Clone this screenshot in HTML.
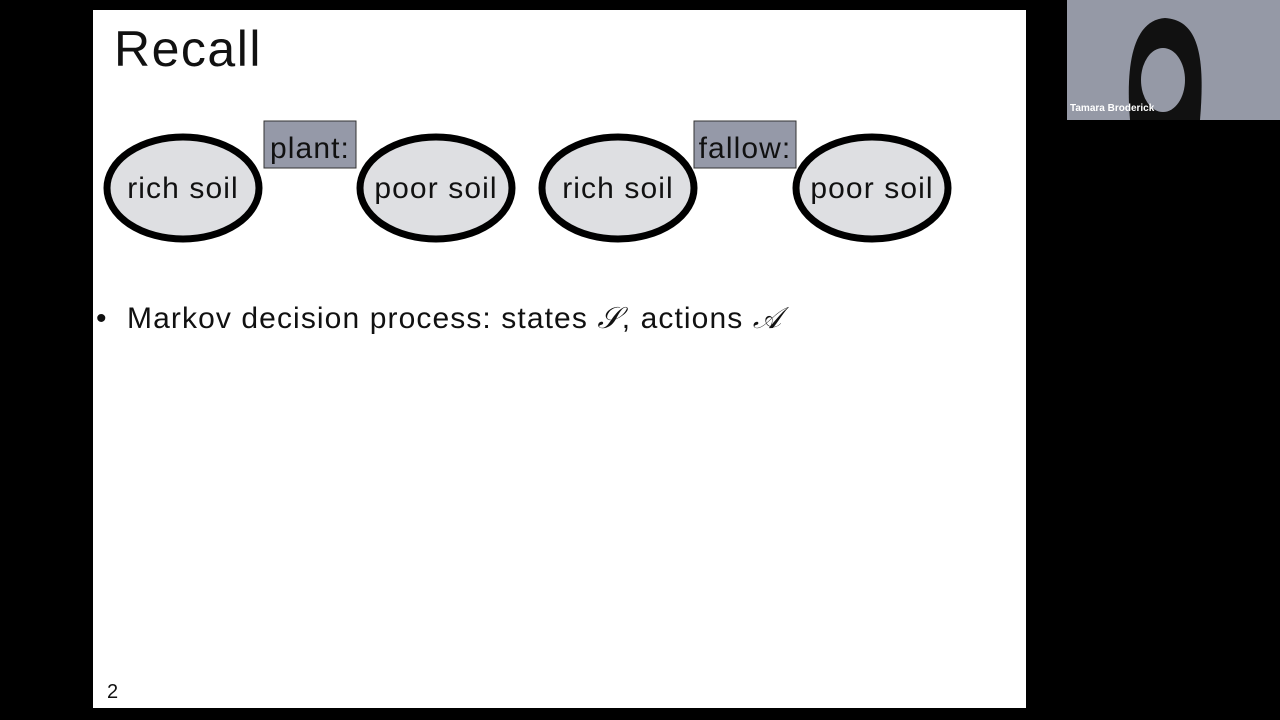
<!DOCTYPE html>
<html><head><style>
body{margin:0;width:1280px;height:720px;background:#000;position:relative;overflow:hidden;font-family:"Liberation Sans",sans-serif}
.slide{position:absolute;left:93px;top:10px;width:933px;height:698px;background:#fff}
.t{position:absolute;color:#111;white-space:nowrap}
</style></head><body>
<div class="slide"></div>
<div style="position:absolute;left:1067px;top:0;width:213px;height:120px;background:#9599a6"></div>
<svg width="1280" height="720" style="position:absolute;left:0;top:0">
<g fill="#dedfe2" stroke="#000" stroke-width="7">
<ellipse cx="183" cy="188" rx="76" ry="51"/>
<ellipse cx="436" cy="188" rx="76" ry="51"/>
<ellipse cx="618" cy="188" rx="76" ry="51"/>
<ellipse cx="872" cy="188" rx="76" ry="51"/>
</g>
<rect x="264" y="121" width="92" height="47" fill="#9599a8" stroke="#333" stroke-width="1"/>
<rect x="694" y="121" width="102" height="47" fill="#9599a8" stroke="#333" stroke-width="1"/>
<g font-family="Liberation Sans" font-size="30" fill="#111" text-anchor="middle" letter-spacing="1.1">
<text x="183" y="198">rich soil</text>
<text x="436" y="198">poor soil</text>
<text x="618" y="198">rich soil</text>
<text x="872" y="198">poor soil</text>
<text x="310" y="158">plant:</text>
<text x="745" y="158">fallow:</text>
</g>
<path d="M1130 120 C1125 60 1135 20 1165 18 C1200 20 1205 60 1200 120 Z" fill="#111"/>
<ellipse cx="1163" cy="80" rx="22" ry="32" fill="#9599a6"/>
</svg>
<div class="t" style="left:114px;top:20px;font-size:50px;letter-spacing:1.5px">Recall</div>
<div class="t" style="left:96px;top:302px;font-size:30px"><span style="display:inline-block;width:31px">•</span><span style="letter-spacing:1.1px">Markov decision process: states <i style="font-family:'Liberation Serif'">𝒮</i>, actions <i style="font-family:'Liberation Serif'">𝒜</i></span></div>
<div class="t" style="left:107px;top:681px;font-size:20px">2</div>
<div class="t" style="left:1070px;top:103px;font-size:10px;color:#fff;font-weight:bold">Tamara Broderick</div>
</body></html>
